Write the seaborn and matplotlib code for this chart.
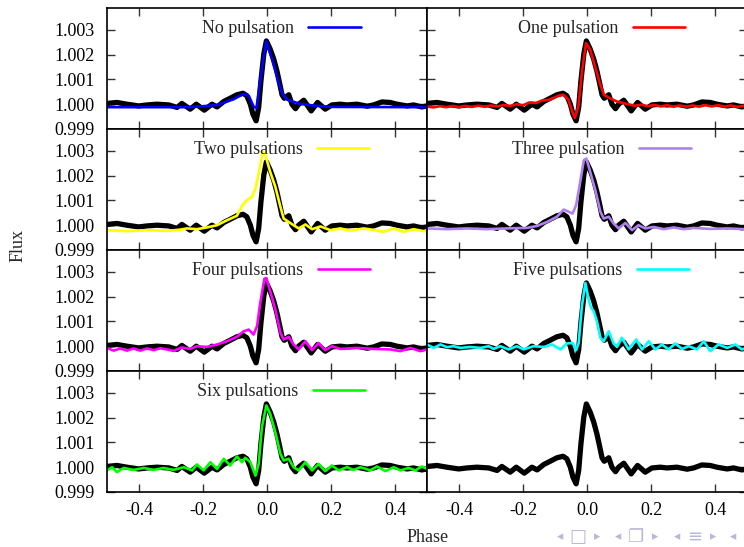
import matplotlib
matplotlib.use("Agg")
import matplotlib.pyplot as plt
import numpy as np
import pandas as pd
import seaborn as sns
from matplotlib.ticker import FixedLocator, FormatStrFormatter

# ---------------- data (flux excess in units of 1e-3) -------------
obs_phase = [-0.500, -0.469, -0.438, -0.401, -0.375, -0.344, -0.307, -0.281, -0.266, -0.240,
             -0.221, -0.196, -0.172, -0.156, -0.135, -0.115, -0.094, -0.075, -0.063, -0.052,
             -0.044, -0.034, -0.026, -0.019, -0.010, -0.002, 0.010, 0.021, 0.031, 0.040,
             0.047, 0.054, 0.068, 0.078, 0.089, 0.099, 0.115, 0.138, 0.158, 0.182,
             0.203, 0.229, 0.250, 0.281, 0.313, 0.333, 0.359, 0.385, 0.406, 0.438,
             0.458, 0.484, 0.500]
obs_ppt = [0.03, 0.07, 0.00, -0.07, -0.03, 0.00, -0.03, -0.13, 0.03, -0.20,
           0.00, -0.24, 0.00, -0.11, 0.11, 0.24, 0.38, 0.44, 0.34, 0.00,
           -0.40, -0.67, -0.13, 0.94, 2.02, 2.55, 2.22, 1.82, 1.34, 0.81,
           0.38, 0.24, 0.38, 0.00, -0.18, 0.00, 0.16, -0.27, 0.07, -0.20,
           -0.03, 0.00, -0.03, 0.00, -0.08, -0.03, 0.09, 0.07, 0.00, -0.07,
           -0.03, -0.11, -0.07]

blue_phase = [-0.500, -0.250, -0.208, -0.156, -0.104, -0.073, -0.057, -0.042, -0.033, -0.021,
              -0.010, -0.002, 0.016, 0.031, 0.047, 0.063, 0.104, 0.156, 0.208, 0.500]
blue_ppt = [-0.12, -0.12, -0.09, -0.03, 0.20, 0.42, 0.34, -0.09, -0.16, 0.98,
            1.92, 2.53, 1.79, 1.12, 0.44, 0.18, 0.01, -0.07, -0.11, -0.12]

red_phase = [-0.50, -0.48, -0.46, -0.44, -0.42, -0.40, -0.38, -0.36, -0.34, -0.32,
             -0.30, -0.28, -0.26, -0.24, -0.22, -0.20, -0.18, -0.16, -0.14, -0.12,
             -0.10, -0.085, -0.074, -0.058, -0.048, -0.038, -0.027, -0.015, -0.003, 0.010,
             0.025, 0.040, 0.053, 0.072, 0.093, 0.124, 0.15, 0.17, 0.19, 0.21,
             0.23, 0.25, 0.27, 0.29, 0.31, 0.33, 0.35, 0.37, 0.39, 0.41,
             0.43, 0.45, 0.47, 0.49, 0.50]
red_ppt = [-0.09, -0.13, -0.08, -0.12, -0.07, -0.12, -0.07, -0.11, -0.06, -0.10,
           -0.05, -0.09, -0.03, -0.07, 0.00, -0.04, 0.07, 0.05, 0.15, 0.17,
           0.28, 0.36, 0.38, 0.18, -0.23, -0.56, -0.09, 1.39, 2.46, 2.20,
           1.53, 0.85, 0.38, 0.24, 0.11, 0.01, -0.06, -0.02, -0.08, -0.03,
           -0.09, -0.04, -0.10, -0.05, -0.10, -0.05, -0.10, -0.04, -0.09, -0.04,
           -0.10, -0.05, -0.11, -0.06, -0.08]

yellow_phase = [-0.5, -0.438, -0.375, -0.313, -0.271, -0.25, -0.219, -0.188, -0.156, -0.125,
                -0.094, -0.078, -0.063, -0.047, -0.036, -0.023, -0.013, -0.005, 0.010, 0.026,
                0.042, 0.052, 0.068, 0.083, 0.099, 0.120, 0.141, 0.167, 0.198, 0.229,
                0.260, 0.302, 0.333, 0.365, 0.396, 0.427, 0.458, 0.49, 0.5]
yellow_ppt = [-0.20, -0.24, -0.20, -0.23, -0.18, -0.13, -0.16, -0.09, 0.00, 0.20,
              0.38, 0.78, 1.01, 1.14, 1.48, 2.28, 2.96, 2.82, 2.15, 1.55,
              0.74, 0.27, 0.13, 0.00, -0.13, 0.03, -0.16, -0.05, -0.20, -0.13,
              -0.22, -0.13, -0.19, -0.27, -0.13, -0.27, -0.16, -0.24, -0.20]

purple_phase = [-0.5, -0.438, -0.375, -0.313, -0.25, -0.188, -0.156, -0.125, -0.094, -0.073,
                -0.057, -0.045, -0.034, -0.023, -0.010, -0.002, 0.010, 0.026, 0.042, 0.052,
                0.068, 0.083, 0.099, 0.120, 0.141, 0.161, 0.182, 0.208, 0.240, 0.271,
                0.302, 0.333, 0.385, 0.438, 0.49, 0.5]
purple_ppt = [-0.13, -0.16, -0.13, -0.16, -0.13, -0.11, -0.03, 0.13, 0.34, 0.63,
              0.54, 0.47, 0.81, 1.61, 2.62, 2.69, 2.15, 1.41, 0.54, 0.27,
              0.34, 0.07, -0.13, 0.09, -0.20, 0.00, -0.13, -0.07, -0.16, -0.09,
              -0.16, -0.11, -0.15, -0.13, -0.16, -0.15]

magenta_phase = [-0.5, -0.479, -0.458, -0.438, -0.417, -0.396, -0.375, -0.354, -0.333, -0.313,
                 -0.292, -0.266, -0.240, -0.219, -0.188, -0.156, -0.125, -0.094, -0.073, -0.057,
                 -0.042, -0.031, -0.021, -0.008, -0.002, 0.010, 0.026, 0.042, 0.052, 0.068,
                 0.083, 0.099, 0.120, 0.141, 0.161, 0.182, 0.203, 0.229, 0.281, 0.333,
                 0.385, 0.417, 0.448, 0.479, 0.5]
magenta_ppt = [-0.07, -0.18, -0.09, -0.18, -0.09, -0.18, -0.09, -0.16, -0.08, -0.13,
               -0.19, -0.05, -0.11, 0.00, -0.03, 0.07, 0.20, 0.38, 0.60, 0.67,
               0.47, 0.81, 1.75, 2.72, 2.75, 2.22, 1.48, 0.54, 0.27, 0.38,
               0.07, -0.13, 0.20, -0.16, 0.13, -0.16, 0.00, -0.11, -0.07, -0.11,
               -0.13, -0.20, -0.07, -0.20, -0.13]

cyan_phase = [-0.5, -0.479, -0.458, -0.438, -0.417, -0.396, -0.365, -0.333, -0.307, -0.292,
              -0.271, -0.245, -0.219, -0.198, -0.167, -0.135, -0.109, -0.083, -0.063, -0.045,
              -0.034, -0.026, -0.016, -0.005, 0.005, 0.013, 0.021, 0.031, 0.042, 0.052,
              0.068, 0.083, 0.094, 0.109, 0.130, 0.154, 0.172, 0.193, 0.214, 0.234,
              0.255, 0.276, 0.297, 0.318, 0.344, 0.365, 0.385, 0.411, 0.438, 0.464,
              0.484, 0.5]
cyan_ppt = [0.07, -0.07, 0.07, -0.04, 0.00, -0.07, -0.03, -0.07, 0.00, -0.11,
            0.00, -0.13, 0.00, -0.13, 0.00, -0.03, 0.07, -0.13, 0.11, 0.13,
            -0.16, 0.13, 1.61, 2.55, 1.88, 1.55, 1.41, 1.01, 0.34, 0.20,
            0.60, 0.11, -0.03, 0.34, -0.13, 0.27, -0.13, 0.20, -0.13, 0.07,
            -0.13, 0.11, -0.11, 0.00, -0.13, 0.20, -0.20, 0.07, -0.07, 0.07,
            -0.13, -0.05]

green_phase = [-0.5, -0.484, -0.469, -0.448, -0.417, -0.385, -0.354, -0.323, -0.292, -0.260,
               -0.234, -0.219, -0.198, -0.177, -0.156, -0.135, -0.115, -0.094, -0.078, -0.068,
               -0.052, -0.036, -0.026, -0.016, -0.002, 0.010, 0.026, 0.042, 0.052, 0.068,
               0.083, 0.099, 0.120, 0.141, 0.161, 0.182, 0.203, 0.224, 0.250, 0.271,
               0.292, 0.323, 0.344, 0.370, 0.396, 0.417, 0.443, 0.464, 0.484, 0.5]
green_ppt = [-0.13, 0.00, -0.20, -0.03, -0.11, -0.03, -0.11, -0.03, -0.11, 0.00,
             -0.13, 0.11, -0.13, 0.20, -0.07, 0.34, 0.07, 0.43, 0.20, 0.38,
             0.20, -0.34, 0.13, 1.61, 2.49, 2.15, 1.41, 0.54, 0.27, 0.34,
             0.00, -0.13, 0.20, -0.13, 0.13, -0.16, 0.07, -0.13, 0.00, -0.11,
             0.00, -0.13, 0.03, -0.16, 0.00, -0.13, -0.03, -0.13, 0.03, -0.07]

panel_labels = ["No pulsation", "One pulsation", "Two pulsations", "Three pulsation",
                "Four pulsations", "Five pulsations", "Six pulsations", None]
panel_colors = ["#0000ff", "#ff0000", "#ffff00", "#b080f0",
                "#ff00ff", "#00ffff", "#00ff00", None]
model_phases = [blue_phase, red_phase, yellow_phase, purple_phase,
                magenta_phase, cyan_phase, green_phase, None]
model_ppts = [blue_ppt, red_ppt, yellow_ppt, purple_ppt,
              magenta_ppt, cyan_ppt, green_ppt, None]

x_ticks = [-0.4, -0.2, 0.0, 0.2, 0.4]
y_ticks = [0.999, 1.000, 1.001, 1.002, 1.003]

nav_symbols = ["◂", "□", "▸", "◂", "❐", "▸", "◂", "≡", "▸", "◂"]

# ---------------- figure ----------------
sns.set_theme(style="white")
plt.rcParams['font.family'] = ['Liberation Serif', 'DejaVu Serif', 'DejaVu Sans']
plt.rcParams['axes.linewidth'] = 1.2

W, H = 744, 547
fig = plt.figure(figsize=(W / 100, H / 100), dpi=100)

obs_df = pd.DataFrame({"phase": obs_phase, "flux": 1.0 + np.array(obs_ppt) * 1e-3})

col_left = [107, 427]
col_w = 320
row_top = 8
row_h = 121
FS = 13

for i in range(8):
    r, c = divmod(i, 2)
    left = col_left[c] / W
    bottom = 1 - (row_top + row_h * (r + 1)) / H
    ax = fig.add_axes([left, bottom, col_w / W, row_h / H])
    ax.set_facecolor("white")

    sns.lineplot(data=obs_df, x="phase", y="flux", ax=ax, color="black", lw=3.8,
                 sort=False, estimator=None, solid_joinstyle="round",
                 solid_capstyle="round", legend=False)
    if model_phases[i] is not None:
        mdf = pd.DataFrame({"phase": model_phases[i],
                            "flux": 1.0 + np.array(model_ppts[i]) * 1e-3})
        sns.lineplot(data=mdf, x="phase", y="flux", ax=ax, color=panel_colors[i],
                     lw=1.9, sort=False, estimator=None, label=panel_labels[i],
                     solid_joinstyle="round", legend=False)
        ax.legend(loc="upper center", bbox_to_anchor=(0.545, 1.0), frameon=False,
                  markerfirst=False, handlelength=2.9, handletextpad=0.8,
                  borderaxespad=0.38, borderpad=0.3, fontsize=FS)

    ax.set_xlim(-0.5, 0.5)
    ax.set_ylim(0.999, 0.999 + row_h / 24.8 * 0.001)
    ax.xaxis.set_major_locator(FixedLocator(x_ticks))
    ax.yaxis.set_major_locator(FixedLocator(y_ticks))
    ax.yaxis.set_major_formatter(FormatStrFormatter("%.3f"))
    ax.xaxis.set_major_formatter(FormatStrFormatter("%.1f"))
    ax.tick_params(axis="both", direction="in", length=6, width=1.0, color="#333333",
                   top=True, right=True, bottom=True, left=True, labelsize=FS,
                   labelcolor="black")
    ax.tick_params(axis="y", pad=9)
    ax.tick_params(axis="x", pad=7)
    ax.tick_params(labelleft=(c == 0), labelbottom=(r == 3))
    ax.set_xlabel("")
    ax.set_ylabel("")
    for sp in ax.spines.values():
        sp.set_color("black")
        sp.set_linewidth(1.2)

fig.text(18 / W, 1 - 245 / H, "Flux", rotation=90, ha="center", va="center", fontsize=FS)
fig.text(428 / W, 1 - 538 / H, "Phase", ha="center", va="center", fontsize=FS)

nav_x = [560, 578, 597, 618, 636, 655, 677, 695, 713, 733]
for sym, xp in zip(nav_symbols, nav_x):
    big = sym in ("□", "❐", "≡")
    fig.text(xp / W, 1 - 537 / H, sym, ha="center", va="center",
             fontsize=13 if big else 9, color="#b8b8d8",
             family=["DejaVu Sans", "Noto Sans"])

fig.savefig("out.png", dpi=100, facecolor="white")
